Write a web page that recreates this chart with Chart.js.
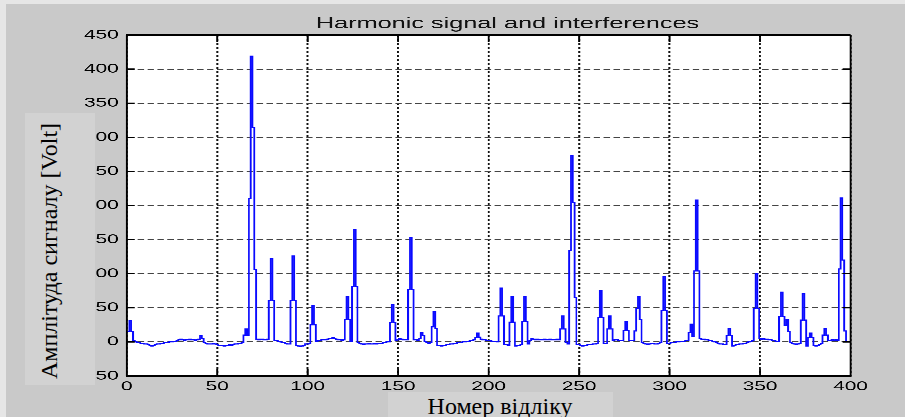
<!DOCTYPE html>
<html>
<head>
<meta charset="utf-8">
<title>Harmonic signal and interferences</title>
<script src="https://cdn.jsdelivr.net/npm/chart.js@4.4.1/dist/chart.umd.min.js"></script>
<style>
    html, body { margin: 0; padding: 0; }
    body { width: 905px; height: 417px; background: #c9c9c9; position: relative; overflow: hidden; }
    #edgeTop { position: absolute; left: 0; top: 0; width: 905px; height: 4px; background: #e6e6e6; }
    #edgeLeft { position: absolute; left: 0; top: 0; width: 6px; height: 417px; background: #e6e6e6; }
    /* the original figure is stretched sideways, so the chart is drawn narrow and widened */
    #stretch { position: absolute; left: 0; top: 0; width: 566px; height: 417px;
               transform: scaleX(1.599); transform-origin: 0 0; }
    .patch { position: absolute; background: #d2d2d2; }
    .serif { font-family: "Liberation Serif", "DejaVu Serif", serif; font-size: 24px; color: #000;
             line-height: 24px; white-space: nowrap; position: absolute; }
    #ylabText { left: 49px; top: 251px; transform: translate(-50%, -50%) rotate(-90deg); }
    #xlabText { left: 500px; top: 394px; transform: translateX(-50%); }
</style>
</head>
<body>
<div id="edgeTop"></div>
<div id="edgeLeft"></div>
<div id="stretch"><canvas id="signal" width="566" height="417"></canvas></div>
<div class="patch" style="left:25px; top:113px; width:70px; height:272px;"></div>
<div class="patch" style="left:388px; top:392px; width:225px; height:25px;"></div>
<span class="serif" id="ylabText">Амплітуда сигналу [Volt]</span>
<span class="serif" id="xlabText">Номер відліку</span>

<script>
const chartTitle = 'Harmonic signal and interferences';
const xTicks = [0, 50, 100, 150, 200, 250, 300, 350, 400];
const yTicks = [-50, 0, 50, 100, 150, 200, 250, 300, 350, 400, 450];

// amplitude per sample (samples 0..398)
const amplitude = [
    15, 15, 31, 15, 2, 0, -1, -1, -2, -2, -3, -3, -4, -5, -6, -5, -4, -3, -3, -2,
    -2, -1, -1, -1, 0, 0, 1, 1, 2, 3, 4, 3, 2, 3, 3, 4, 3, 3, 2, 3,
    4, 9, 5, -1, -2, -3, -3, -3, -2, -3, -4, -5, -5, -5, -6, -5, -5, -4, -5, -4,
    -3, -3, -2, -2, -1, 10, 19, 10, 210, 419, 314, 106, 4, 3, 4, 4, 3, 3, 4, 61,
    122, 61, 2, 2, 1, 0, -1, -1, -2, -3, -3, 61, 126, 61, -5, -6, -7, -6, -5, -3,
    -3, -2, 25, 53, 25, 1, 2, 2, 3, 3, 3, 4, 5, 5, 6, 5, 4, 3, 3, 2,
    3, 33, 67, 33, 1, 81, 165, 81, -1, -2, -3, -4, -3, -3, -2, -3, -3, -2, -3, -2,
    -2, -2, -1, -1, 0, 0, 28, 55, 28, 2, 3, 5, 4, 3, 3, 3, 77, 153, 77, 3,
    3, 2, 5, 14, 9, 1, -1, -2, -1, 22, 45, 20, -5, -5, -6, -5, -5, -4, -4, -3,
    -3, -2, -2, -1, -1, -1, 0, 0, 1, 1, 2, 2, 3, 6, 13, 7, 4, 3, 3, 2,
    2, 2, 1, 1, 1, 0, 38, 79, 38, -4, -4, -5, 29, 66, 29, -6, -5, -5, -4, 30,
    67, 30, -3, 2, 5, 4, 3, 4, 3, 3, 3, 4, 3, 3, 4, 3, 3, 3, 4, 3,
    19, 38, 19, -1, -3, 134, 273, 204, 65, -4, -4, -5, -6, -5, -5, -4, -4, -4, -3, -3,
    -2, 36, 75, 36, -2, -2, 19, 38, 19, 2, 3, 3, 2, 2, 2, 17, 30, 17, 2, 2,
    2, 16, 49, 67, 33, -1, -2, -3, -4, -3, -2, -2, -3, -3, -2, -1, 46, 96, 46, -2,
    -2, -1, -1, -1, 0, 0, 1, 1, 1, 2, 2, 14, 26, 8, 104, 208, 104, 5, 4, 4,
    3, 3, 2, 2, 1, 0, -1, -2, -3, -3, -4, -4, 9, 20, 9, -6, -5, -4, -4, -3,
    -3, -2, -2, -1, 0, 1, 2, 49, 100, 49, 5, 4, 5, 4, 4, 3, 3, 2, 2, 1,
    1, 37, 73, 37, 24, 33, 15, -1, -2, -3, -4, -3, -2, 32, 71, 32, -6, 6, 13, 6,
    -5, -6, -5, -4, -2, 10, 20, 10, 2, 2, 3, 2, 3, 2, 107, 211, 120, 16, 1
];
const sampleIndex = amplitude.map((_, i) => i);

const stretch = 905 / 566;
const plotLeft = 126.7 / stretch;
const plotRight = 850.5 / stretch;
const tickFont = { family: '"Liberation Sans", Arial, sans-serif', size: 13 };

// white axes area, black box with inward ticks, and the figure title
const figurePlugin = {
    id: 'figure',
    beforeDraw(chart) {
        const { ctx, chartArea: a } = chart;
        ctx.save();
        ctx.fillStyle = '#ffffff';
        ctx.fillRect(a.left, a.top, a.right - a.left, a.bottom - a.top);
        ctx.restore();
    },
    afterDraw(chart) {
        const { ctx, chartArea: a, scales } = chart;
        ctx.save();
        ctx.strokeStyle = '#000';
        ctx.lineWidth = 1.3;
        ctx.beginPath();
        ctx.moveTo(a.left, a.top); ctx.lineTo(a.right, a.top);
        ctx.moveTo(a.left, a.bottom); ctx.lineTo(a.right, a.bottom);
        yTicks.forEach(v => {
            const y = scales.y.getPixelForValue(v);
            ctx.moveTo(a.left, y); ctx.lineTo(a.left + 5, y);
            ctx.moveTo(a.right, y); ctx.lineTo(a.right - 5, y);
        });
        ctx.stroke();
        ctx.lineWidth = 1.2;
        ctx.beginPath();
        ctx.moveTo(a.left, a.top); ctx.lineTo(a.left, a.bottom);
        ctx.moveTo(a.right, a.top); ctx.lineTo(a.right, a.bottom);
        xTicks.forEach(v => {
            const x = scales.x.getPixelForValue(v);
            ctx.moveTo(x, a.bottom); ctx.lineTo(x, a.bottom - 7);
            ctx.moveTo(x, a.top); ctx.lineTo(x, a.top + 7);
        });
        ctx.stroke();

        ctx.font = '15.8px "Liberation Sans", Arial, sans-serif';
        ctx.fillStyle = '#111';
        ctx.textAlign = 'center';
        ctx.textBaseline = 'alphabetic';
        ctx.fillText(chartTitle, 507.5 / stretch, 28.3);
        ctx.restore();
    }
};

new Chart(document.getElementById('signal'), {
    type: 'line',
    data: {
        labels: sampleIndex,
        datasets: [{
            data: amplitude,
            borderColor: '#0a0aff',
            borderWidth: 1.1,
            pointRadius: 0,
            stepped: 'middle',
            fill: false,
        }],
    },
    options: {
        responsive: false,
        animation: false,
        devicePixelRatio: 3,
        layout: { padding: { left: 0, right: 566 - plotRight, top: 35, bottom: 0 } },
        plugins: {
            legend: { display: false },
            tooltip: { enabled: false },
            title: { display: false },
        },
        scales: {
            x: {
                type: 'linear',
                min: 0,
                max: 400,
                afterBuildTicks: (s) => { s.ticks = xTicks.map(v => ({ value: v })); },
                afterFit: (s) => { s.height = 41; },
                ticks: { color: '#000', font: tickFont, padding: 3, maxRotation: 0, autoSkip: false },
                grid: { color: '#111', lineWidth: 1.2, drawTicks: false },
                border: { display: true, color: '#000', width: 1.3, dash: [2, 2] },
            },
            y: {
                min: -50,
                max: 450,
                afterBuildTicks: (s) => { s.ticks = yTicks.map(v => ({ value: v })); },
                afterFit: (s) => { s.width = plotLeft; },
                ticks: { color: '#000', font: tickFont, padding: 5, autoSkip: false },
                grid: { color: '#444', lineWidth: 1, drawTicks: false },
                border: { display: true, color: '#000', width: 1.2, dash: [4, 2.2] },
            },
        },
    },
    plugins: [figurePlugin],
});
</script>
</body>
</html>
